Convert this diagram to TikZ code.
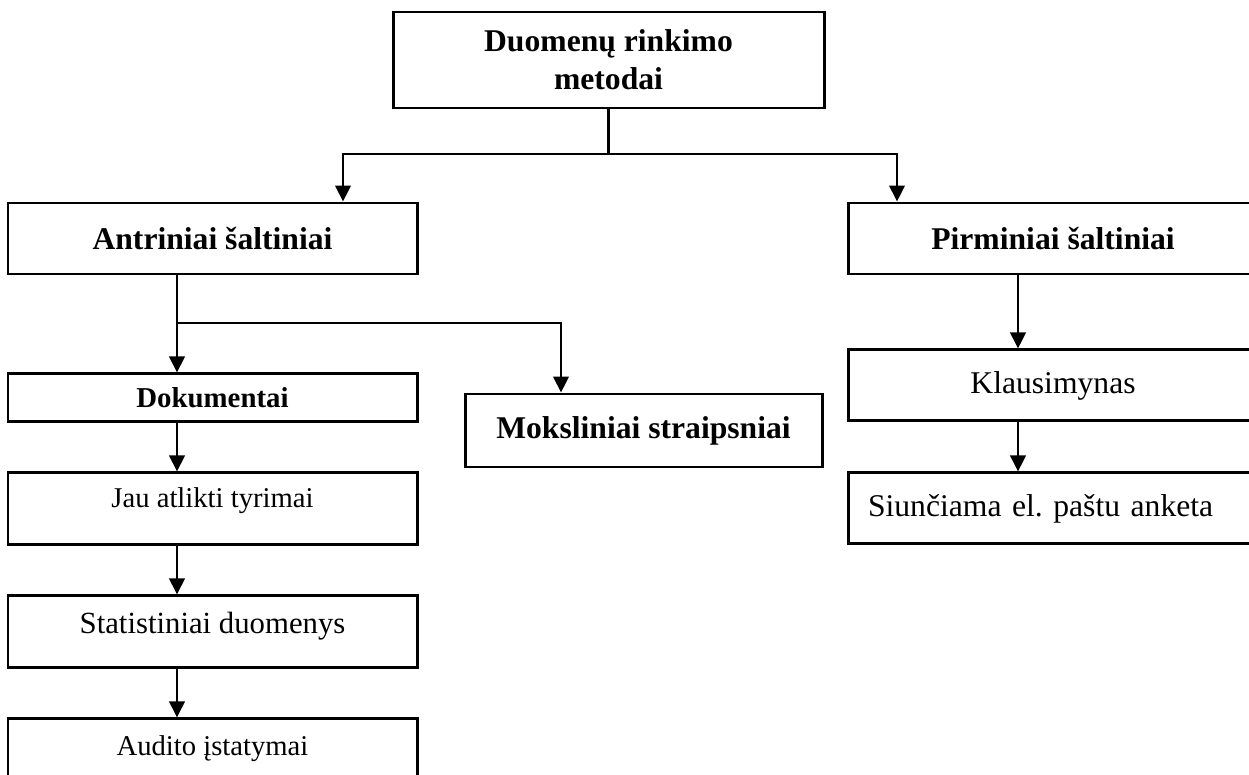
\documentclass[tikz,border=0pt]{standalone}
\usepackage{fontspec}
\setmainfont{Liberation Serif}
\usetikzlibrary{arrows.meta, positioning}
\newlength\px
\setlength\px{0.2mm}
\frenchspacing

\begin{document}
\begin{tikzpicture}[
        x = 0.2mm,
        y = -0.2mm,
        > = {Triangle[width=3.1mm, length=3.2mm]},
        box/.style = {draw, line width=1.7pt, inner sep=0pt, align=center,
            font=\fontsize{18}{21}\selectfont},
        wide/.style = {box, minimum width=409*\px},
        hdr/.style = {font=\bfseries\fontsize{18}{21.5}\selectfont},
        link/.style = {->, line width=1.25pt}
    ]
    \useasboundingbox (0,0) rectangle (1249,775);
    \clip (0,0) rectangle (1249,775);

    % top level
    \node[box, hdr, minimum width=431*\px, minimum height=96*\px] (metodai) at (608.5,60) {Duomenų rinkimo\\metodai};
    \node[wide, hdr, minimum height=71*\px] (antriniai) at (212.5,238.5) {Antriniai šaltiniai};
    \node[box, hdr, minimum width=410*\px, minimum height=71*\px] (pirminiai) at (1053,238.5) {Pirminiai šaltiniai};

    % secondary sources
    \node[wide, font=\bfseries\fontsize{16.4}{19}\selectfont, minimum height=48*\px, below=19.4mm of antriniai] (dokumentai) {Dokumentai};
    \node[wide, font=\fontsize{16.3}{19}\selectfont, minimum height=72*\px, text height=4mm, text depth=4.4mm, below=9.6mm of dokumentai] (tyrimai) {Jau atlikti tyrimai};
    \node[wide, font=\fontsize{17.5}{20}\selectfont, minimum height=72*\px, text height=4.2mm, text depth=3.4mm, below=9.6mm of tyrimai] (statistika) {Statistiniai duomenys};
    \node[wide, font=\fontsize{16.3}{19}\selectfont, minimum height=120*\px, text height=4mm, text depth=13.2mm, below=9.6mm of statistika] (auditas) {Audito įstatymai};
    \node[box, hdr, minimum width=357*\px, minimum height=73*\px] (straipsniai) at (643.5,430.5) {Moksliniai straipsniai};

    % primary sources
    \node[box, minimum width=410*\px, minimum height=71*\px, below=14.6mm of pirminiai] (klausimynas) {Klausimynas};
    \node[box, minimum width=410*\px, minimum height=71*\px, text width=370*\px, inner xsep=20*\px, align=left, below=9.8mm of klausimynas] (anketa) {Siunčiama el. paštu anketa};

    % connectors
    \coordinate (topfork) at (608.5,154);
    \coordinate (leftfork) at (177,323);
    \draw[line width=1.25pt] (metodai.south) -- (topfork);
    \draw[link] (topfork) -| ([xshift=130.5*\px]antriniai.north);
    \draw[link] (topfork) -| ([xshift=-156*\px]pirminiai.north);
    \draw[line width=1.25pt] (antriniai.south -| leftfork) -- (leftfork);
    \draw[link] (leftfork) -- (leftfork |- dokumentai.north);
    \draw[link] (leftfork) -| ([xshift=-82.5*\px]straipsniai.north);
    \foreach \a/\b in {dokumentai/tyrimai, tyrimai/statistika, statistika/auditas}
        \draw[link] (\a.south -| leftfork) -- (\b.north -| leftfork);
    \draw[link] ([xshift=-35*\px]pirminiai.south) -- ([xshift=-35*\px]klausimynas.north);
    \draw[link] ([xshift=-35*\px]klausimynas.south) -- ([xshift=-35*\px]anketa.north);
\end{tikzpicture}
\end{document}
